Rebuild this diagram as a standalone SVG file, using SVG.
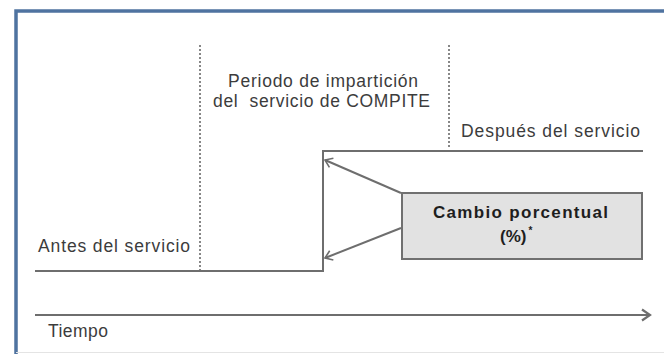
<svg xmlns="http://www.w3.org/2000/svg" width="664" height="354" viewBox="0 0 664 354">
<defs>
<style>
.lbl{font-family:"Liberation Sans",Arial,sans-serif;font-size:17.5px;fill:#3c3c3c}
.bold{font-family:"Liberation Sans",Arial,sans-serif;font-size:17px;font-weight:bold;fill:#1e1e1e}
.ln{stroke:#6e6e6e;stroke-width:2;fill:none}
.dot{stroke:#6a6a6a;stroke-width:1.6;stroke-dasharray:2 2;fill:none}
</style>
<marker id="open" markerWidth="12" markerHeight="12" refX="9" refY="6" orient="auto" markerUnits="userSpaceOnUse">
<path d="M2,1 L9,6 L2,11" fill="none" stroke="#6e6e6e" stroke-width="1.6"/>
</marker>
<marker id="big" markerWidth="14" markerHeight="14" refX="11" refY="7" orient="auto" markerUnits="userSpaceOnUse">
<path d="M3,1.5 L11,7 L3,12.5" fill="none" stroke="#6e6e6e" stroke-width="2.2"/>
</marker>
</defs>
<rect width="664" height="354" fill="#ffffff"/>
<g id="frame">
<path d="M16,354 L16,11 L664,11" fill="none" stroke="#4f73a0" stroke-width="3.5"/>
<line x1="16" y1="352.5" x2="664" y2="352.5" stroke="#e4e4e4" stroke-width="1"/>
</g>
<g id="connectors">
<line class="dot" x1="200" y1="45" x2="200" y2="270"/>
<line class="dot" x1="449" y1="45" x2="449" y2="149"/>
<path class="ln" d="M35,271 L323,271 L323,151 L643,151"/>
<line class="ln" x1="35" y1="315" x2="650" y2="315" marker-end="url(#big)"/>
<line class="ln" stroke-width="1.6" x1="401" y1="193" x2="325" y2="160" marker-end="url(#open)"/>
<line class="ln" stroke-width="1.6" x1="401" y1="228" x2="325" y2="258" marker-end="url(#open)"/>
</g>
<g id="periodo">
<text class="lbl" x="228" y="87" textLength="190">Periodo de impartición</text>
<text class="lbl" x="213" y="107" textLength="217" xml:space="preserve">del  servicio de COMPITE</text>
</g>
<g id="despues">
<text class="lbl" x="461" y="137" textLength="179">Después del servicio</text>
</g>
<g id="antes">
<text class="lbl" x="38" y="252" textLength="152">Antes del servicio</text>
</g>
<g id="tiempo">
<text class="lbl" x="48" y="337" textLength="60">Tiempo</text>
</g>
<g id="cambio">
<rect x="402" y="193" width="240" height="66" fill="#e2e2e2" stroke="#707070" stroke-width="2"/>
<text class="bold" x="433" y="218" textLength="175">Cambio porcentual</text>
<text class="bold" x="500" y="242" font-size="15">(%)<tspan dx="2" dy="-8" font-size="10">*</tspan></text>
</g>
</svg>
